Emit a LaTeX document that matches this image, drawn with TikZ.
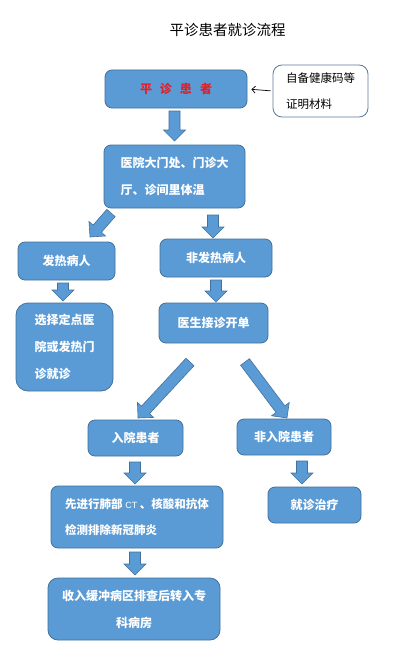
\documentclass[tikz,border=0pt]{standalone}
\usepackage{fontspec}
\setmainfont{Noto Sans CJK SC}
\newfontfamily\latinfont{Liberation Sans}
\usetikzlibrary{calc,arrows.meta}
\definecolor{boxfill}{HTML}{5B9BD5}
\definecolor{boxline}{HTML}{41719C}
\definecolor{sideline}{HTML}{5A7A9A}
\definecolor{titlered}{HTML}{E0202A}
\tikzset{
  box/.style={draw=boxline, fill=boxfill, line width=0.8pt, rounded corners=7pt,
    inner sep=0pt, text=white, font=\fontsize{12}{27}\selectfont\bfseries, align=left},
  sidebox/.style={draw=sideline, fill=white, line width=0.8pt, rounded corners=9pt,
    inner sep=0pt, text=black, font=\fontsize{11.5}{26}\selectfont, align=left},
  blk/.style={draw=boxline, fill=boxfill, line width=0.6pt, line join=miter},
  thinarrow/.style={draw=black, line width=0.7pt, -{Straight Barb[length=3.5pt,width=7pt]}},
}
\newcommand\blockarrow[2]{%
  \draw[blk] let \p1=(#1), \p2=(#2),
    \n1={atan2(\y2-\y1,\x2-\x1)}, \n2={veclen(\x2-\x1,\y2-\y1)},
    \n3={\n2-11pt}, \n4={\n1+90}, \n5={\n1-90} in
    ($(\p1)+(\n4:5.5pt)$) -- ($(\p1)+(\n1:\n3)+(\n4:5.5pt)$) --
    ($(\p1)+(\n1:\n3)+(\n4:11pt)$) -- (\p2) --
    ($(\p1)+(\n1:\n3)+(\n5:11pt)$) -- ($(\p1)+(\n1:\n3)+(\n5:5.5pt)$) --
    ($(\p1)+(\n5:5.5pt)$) -- cycle;}
\begin{document}
\begin{tikzpicture}[x=1pt,y=-1pt]
\path[fill=white,use as bounding box] (0,0) rectangle (402,661);

\node[font=\fontsize{14.5}{16}\selectfont] (title) at (227.5,30) {平诊患者就诊流程};

\node[box, minimum width=142pt, minimum height=38pt] (b1) at (176,89)
  {\color{titlered}平\hspace{8pt}诊\hspace{8pt}患\hspace{8pt}者};
\node[sidebox, minimum width=95pt, minimum height=52pt] (side) at (320.5,91)
  {自备健康码等\\证明材料};
\node[box, minimum width=141pt, minimum height=63pt] (b2) at (174.5,176.5)
  {医院大门处、门诊大\\厅、诊间里体温};
\node[box, minimum width=97pt, minimum height=38pt] (fever) at (66.5,261) {发热病人};
\node[box, minimum width=112pt, minimum height=38pt] (nonfever) at (216,258) {非发热病人};
\node[box, minimum width=97pt, minimum height=88pt, rounded corners=12pt] (choose) at (64.5,347)
  {选择定点医\\院或发热门\\诊就诊};
\node[box, minimum width=109pt, minimum height=40pt] (doctor) at (213.5,323) {医生接诊开单};
\node[box, minimum width=95pt, minimum height=36pt] (inpat) at (135.5,438) {入院患者};
\node[box, minimum width=94pt, minimum height=36pt] (outpat) at (284,437) {非入院患者};
\node[box, minimum width=172pt, minimum height=62pt, font=\fontsize{11.5}{26}\selectfont\bfseries] (test) at (137,517)
  {先进行肺部 {\latinfont\mdseries\fontsize{9}{10}\selectfont CT} 、核酸和抗体\\检测排除新冠肺炎};
\node[box, minimum width=93pt, minimum height=36pt] (treat) at (314.5,505) {就诊治疗};
\node[box, minimum width=172pt, minimum height=62pt, align=center, rounded corners=10pt] (admit) at (134,609)
  {收入缓冲病区排查后转入专\\科病房};

% connector end points
\coordinate (a1s) at (174.5,111); \coordinate (a1e) at (174.5,141);
\coordinate (a2s) at (111,213);   \coordinate (a2e) at (90,237);
\coordinate (a3s) at (213,215);   \coordinate (a3e) at (213,238);
\coordinate (a4s) at (63,283);    \coordinate (a4e) at (63,301);
\coordinate (a5s) at (216,280);   \coordinate (a5e) at (216,302);
\coordinate (a6s) at (190,362);   \coordinate (a6e) at (138,418);
\coordinate (a7s) at (245,362);   \coordinate (a7e) at (287,418);
\coordinate (a8s) at (135,462);   \coordinate (a8e) at (135,484);
\coordinate (a9s) at (302,461);   \coordinate (a9e) at (302,484);
\coordinate (a10s) at (135,552);  \coordinate (a10e) at (135,575);

\blockarrow{a1s}{a1e}
\blockarrow{a2s}{a2e}
\blockarrow{a3s}{a3e}
\blockarrow{a4s}{a4e}
\blockarrow{a5s}{a5e}
\blockarrow{a6s}{a6e}
\blockarrow{a7s}{a7e}
\blockarrow{a8s}{a8e}
\blockarrow{a9s}{a9e}
\blockarrow{a10s}{a10e}

\draw[thinarrow, shorten <=2pt, shorten >=4pt] (side.west) -- (b1.east);
\end{tikzpicture}
\end{document}
